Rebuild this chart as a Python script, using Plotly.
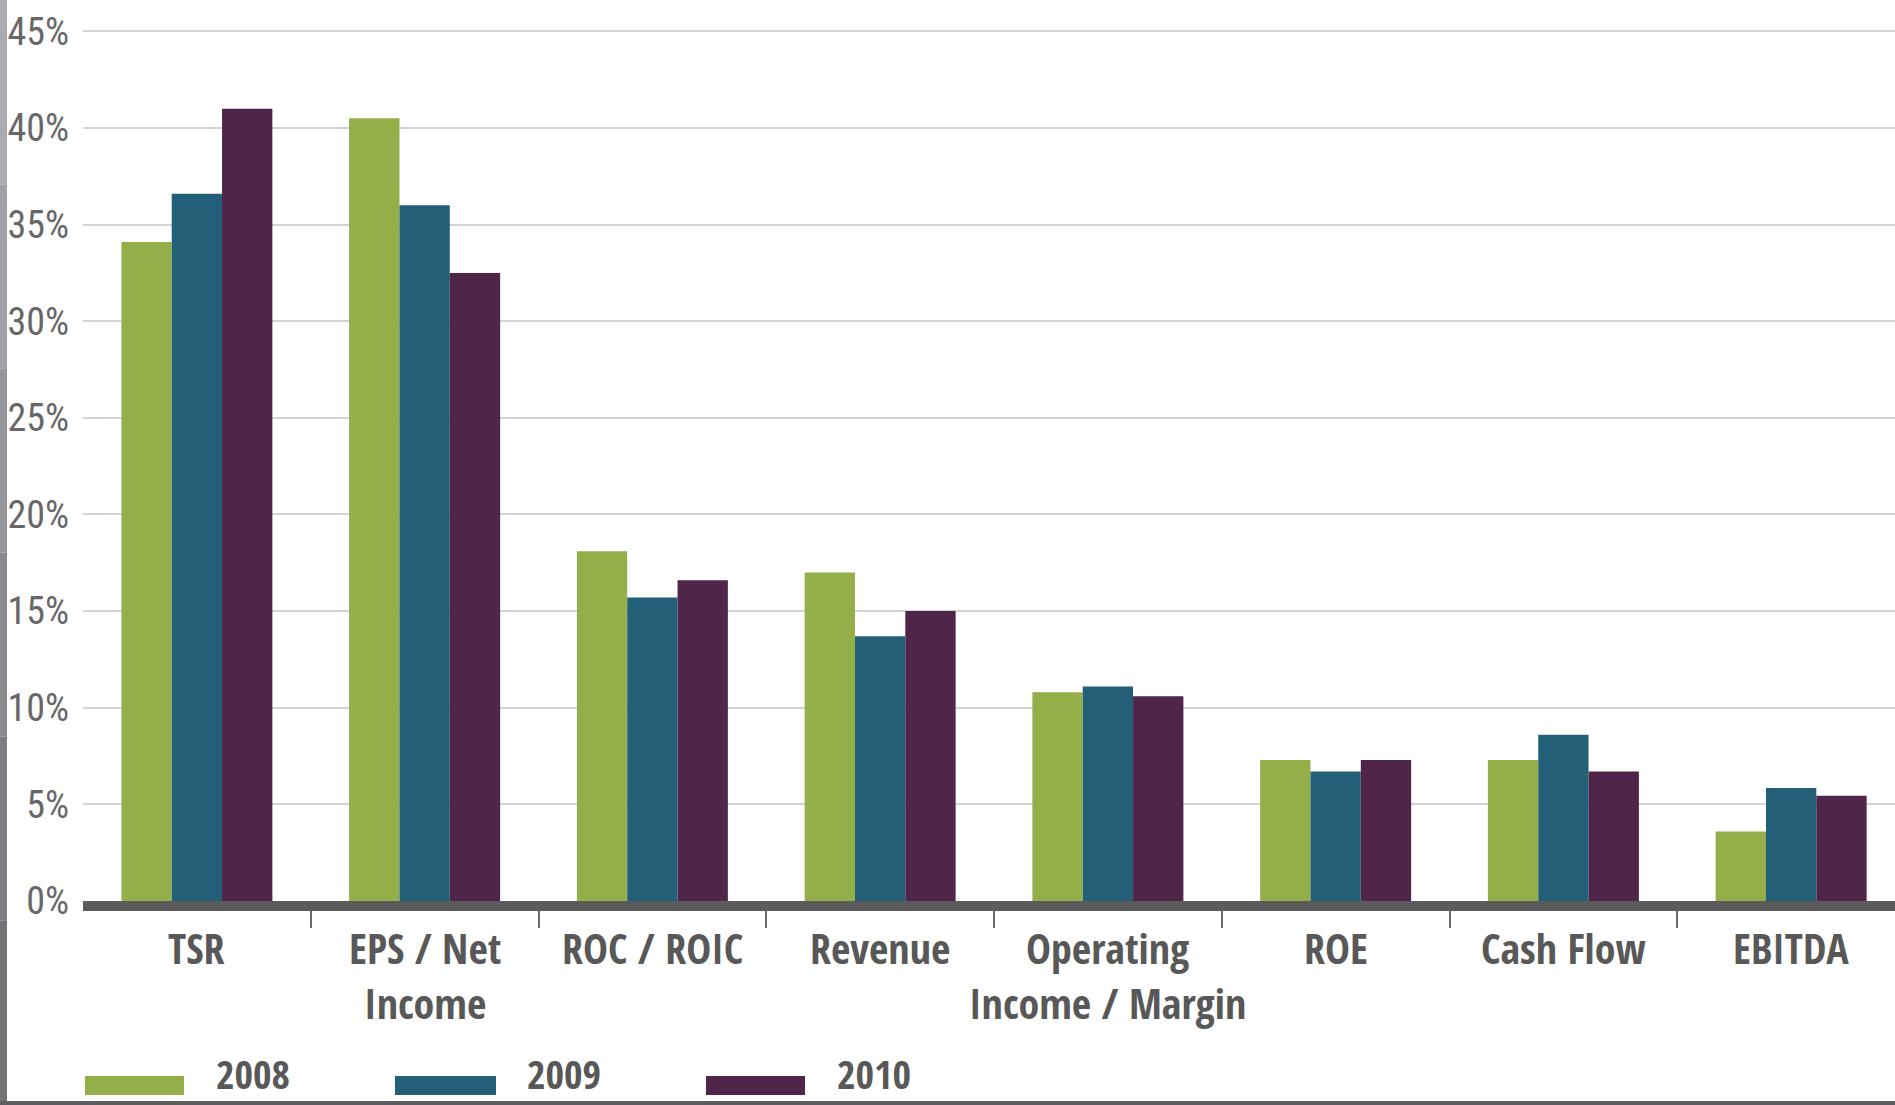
import plotly.graph_objects as go

categories = ["TSR", "EPS / Net<br>Income", "ROC / ROIC", "Revenue",
              "Operating<br>Income / Margin", "ROE", "Cash Flow", "EBITDA"]
years = ["2008", "2009", "2010"]
v2008 = [34.1, 40.5, 18.1, 17.0, 10.8, 7.3, 7.3, 3.6]
v2009 = [36.6, 36.0, 15.7, 13.7, 11.1, 6.7, 8.6, 5.85]
v2010 = [41.0, 32.5, 16.6, 15.0, 10.6, 7.3, 6.7, 5.45]
colors = ["#94ae4a", "#245f78", "#4f2549"]
y_ticks = [0, 5, 10, 15, 20, 25, 30, 35, 40, 45]

FONT = "Open Sans Condensed, Roboto Condensed, sans-serif"
TICKFONT = "Roboto Condensed, Open Sans Condensed, sans-serif"

W, H = 1895, 1105
L, B_PX, T = 83, 901, 12
PW = W - L
PH = B_PX - T

def px(x):
    return (x - L) / PW

def py(y):
    return (B_PX - y) / PH

xpos = list(range(len(categories)))
fig = go.Figure()
for name, vals, col in zip(years, [v2008, v2009, v2010], colors):
    fig.add_trace(go.Bar(x=xpos, y=vals, name=name, marker=dict(color=col, line=dict(width=0)),
                         showlegend=False))

fig.update_layout(
    width=W, height=H,
    margin=dict(l=L, r=0, t=T, b=H - B_PX, autoexpand=False),
    paper_bgcolor="white", plot_bgcolor="white",
    barmode="group", bargap=0.337, bargroupgap=0,
    font=dict(family=FONT),
)
fig.update_yaxes(range=[0, 46], tickvals=y_ticks, ticktext=[f"{v}%" for v in y_ticks],
                 showgrid=True, gridcolor="#d3d3d3", gridwidth=2, zeroline=False,
                 showline=False, ticks="", ticklabelstandoff=13, automargin=False,
                 tickfont=dict(size=38, color="#676767", family=TICKFONT, weight=400))
fig.update_xaxes(range=[-0.5, 7.456], tickvals=xpos, ticktext=[""] * len(xpos),
                 showgrid=False, zeroline=False, ticks="", automargin=False,
                 showline=True, linewidth=10, linecolor="#5b5b5b",
                 minor=dict(tickvals=[i + 0.5 for i in range(7)], ticks="outside",
                            ticklen=17, tickwidth=2, tickcolor="#6a6a6a"))

shapes = []
# left gray strip (gradient-ish)
strip_cols = ["#aaaab0", "#a0a0a6", "#95959a", "#8a8a8e", "#7e7e82", "#737375"]
n = len(strip_cols)
for i, c in enumerate(strip_cols):
    shapes.append(dict(type="rect", xref="paper", yref="paper",
                       x0=px(0), x1=px(7), y0=py(H * (i + 1) / n), y1=py(H * i / n),
                       fillcolor=c, line=dict(width=0), layer="above"))
# bottom gray strip
shapes.append(dict(type="rect", xref="paper", yref="paper", x0=px(0), x1=px(W),
                   y0=py(H), y1=py(1101), fillcolor="#5e5e62", line=dict(width=0), layer="above"))
# legend swatches
sw = [(85, 184), (395, 496), (706, 805)]
for (a, b), c in zip(sw, colors):
    shapes.append(dict(type="rect", xref="paper", yref="paper", x0=px(a), x1=px(b),
                       y0=py(1095), y1=py(1076), fillcolor=c, line=dict(width=0)))

annotations = []
LBL = dict(size=42, color="#585858", family=FONT, weight="bold")
for i, cat in enumerate(categories):
    annotations.append(dict(xref="x", yref="paper", x=xpos[i], y=py(917), text=cat,
                            showarrow=False, xanchor="center", yanchor="top", font=LBL))
LEG = dict(size=40, color="#585858", family=FONT, weight="bold")
for xl, name in zip([214, 525, 835], years):
    annotations.append(dict(xref="paper", yref="paper", x=px(xl), y=py(1073), text=name,
                            showarrow=False, xanchor="left", yanchor="middle", font=LEG))
fig.update_layout(shapes=shapes, annotations=annotations)
fig.write_html("out.html")
